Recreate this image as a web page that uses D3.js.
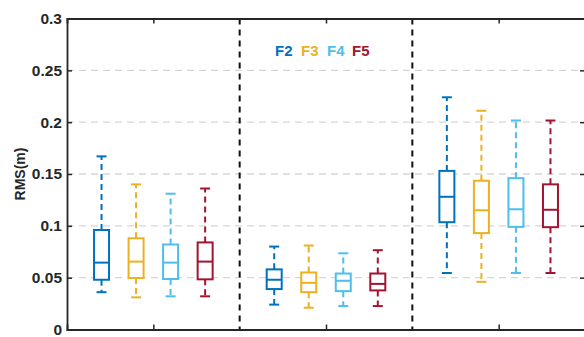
<!DOCTYPE html>
<html>
<head>
<meta charset="utf-8">
<script src="https://cdn.jsdelivr.net/npm/d3@7"></script>
<style>
  html, body { margin: 0; padding: 0; background: #fff; }
  svg { display: block; }
  text { font-family: "Liberation Sans", Arial, sans-serif; font-weight: bold; }
</style>
</head>
<body>
<svg id="chart" width="584" height="337"></svg>
<script>
// Three scenario groups, four frequency series each
const groups = [1, 2, 3];
const series = ["F2", "F3", "F4", "F5"];
const colors = ["#0072BD", "#EDB120", "#4DBEEE", "#A2142F"];

// Box statistics per series, one entry per group: [lower whisker, Q1, median, Q3, upper whisker]
const statsF2 = [
  [0.036, 0.048, 0.0645, 0.096, 0.167],
  [0.024, 0.039, 0.048, 0.058, 0.080],
  [0.0545, 0.1035, 0.128, 0.153, 0.224]
];
const statsF3 = [
  [0.031, 0.0497, 0.0655, 0.088, 0.140],
  [0.021, 0.036, 0.045, 0.055, 0.081],
  [0.046, 0.093, 0.115, 0.1435, 0.211]
];
const statsF4 = [
  [0.032, 0.0487, 0.0645, 0.082, 0.131],
  [0.0226, 0.037, 0.047, 0.054, 0.0735],
  [0.0545, 0.099, 0.116, 0.146, 0.2016]
];
const statsF5 = [
  [0.032, 0.0484, 0.0655, 0.084, 0.136],
  [0.0226, 0.0377, 0.044, 0.054, 0.0765],
  [0.0545, 0.0987, 0.1155, 0.140, 0.2016]
];
const allStats = [statsF2, statsF3, statsF4, statsF5];
const offsets = [-0.3, -0.1, 0.1, 0.3];

const yTicks = [0, 0.05, 0.1, 0.15, 0.2, 0.25, 0.3];
const yLabel = "RMS(m)";

const svg = d3.select("#chart");
const plotLeft = 67, plotRight = 585, plotTop = 18.5, plotBottom = 329.5;

const x = d3.scaleLinear().domain([0.5, 3.5]).range([plotLeft, plotRight]);
const y = d3.scaleLinear().domain([0, 0.3]).range([plotBottom, plotTop]);

const axisColor = "#262626";

// horizontal grid
svg.append("g")
  .selectAll("line")
  .data(yTicks.filter(t => t > 0 && t < 0.3))
  .join("line")
  .attr("x1", plotLeft).attr("x2", plotRight)
  .attr("y1", d => y(d)).attr("y2", d => y(d))
  .attr("stroke", "#d6d6d6")
  .attr("stroke-width", 1.3)
  .attr("stroke-dasharray", "7,5");

// group separators
svg.append("g")
  .selectAll("line")
  .data([1.5, 2.5])
  .join("line")
  .attr("x1", d => x(d)).attr("x2", d => x(d))
  .attr("y1", plotTop).attr("y2", plotBottom)
  .attr("stroke", "#111")
  .attr("stroke-width", 2)
  .attr("stroke-dasharray", "6,5");

// box plots
const boxW = 15, capW = 10;
series.forEach((name, si) => {
  const g = svg.append("g").attr("class", "series-" + name);
  allStats[si].forEach((s, gi) => {
    const cx = x(groups[gi] + offsets[si]);
    const [lo, q1, med, q3, hi] = s;
    const c = colors[si];
    // whiskers
    g.append("line")
      .attr("x1", cx).attr("x2", cx)
      .attr("y1", y(q3)).attr("y2", y(hi))
      .attr("stroke", c).attr("stroke-width", 2)
      .attr("stroke-dasharray", "6,4");
    g.append("line")
      .attr("x1", cx).attr("x2", cx)
      .attr("y1", y(q1)).attr("y2", y(lo))
      .attr("stroke", c).attr("stroke-width", 2)
      .attr("stroke-dasharray", "6,4");
    // caps
    [lo, hi].forEach(v => {
      g.append("line")
        .attr("x1", cx - capW / 2).attr("x2", cx + capW / 2)
        .attr("y1", y(v)).attr("y2", y(v))
        .attr("stroke", c).attr("stroke-width", 2);
    });
    // box
    g.append("rect")
      .attr("x", cx - boxW / 2).attr("width", boxW)
      .attr("y", y(q3)).attr("height", y(q1) - y(q3))
      .attr("fill", "#fff")
      .attr("stroke", c).attr("stroke-width", 2);
    // median
    g.append("line")
      .attr("x1", cx - boxW / 2).attr("x2", cx + boxW / 2)
      .attr("y1", y(med)).attr("y2", y(med))
      .attr("stroke", c).attr("stroke-width", 2);
  });
});

// axes (ticks drawn inward)
const tickLen = 5;
svg.append("g")
  .attr("transform", `translate(${plotLeft},0)`)
  .call(d3.axisLeft(y).tickValues(yTicks).tickSize(-tickLen).tickPadding(5)
    .tickFormat(d => d3.format("~g")(d)))
  .call(g => g.select(".domain").attr("stroke", axisColor).attr("stroke-width", 1.8))
  .call(g => g.selectAll(".tick line").attr("stroke", axisColor).attr("stroke-width", 1.5))
  .call(g => g.selectAll(".tick text").attr("fill", "#262626")
    .style("font-size", "15.5px").style("font-family", "'Liberation Sans', Arial, sans-serif")
    .style("font-weight", "bold"));

svg.append("g")
  .attr("transform", `translate(${plotRight},0)`)
  .call(d3.axisRight(y).tickValues(yTicks).tickSize(-tickLen).tickFormat(""))
  .call(g => g.select(".domain").attr("stroke", "#bbb").attr("stroke-width", 1))
  .call(g => g.selectAll(".tick line").attr("stroke", axisColor).attr("stroke-width", 1.5));

svg.append("g")
  .attr("transform", `translate(0,${plotBottom})`)
  .call(d3.axisBottom(x).tickValues(groups).tickSize(-tickLen).tickFormat(""))
  .call(g => g.select(".domain").attr("stroke", axisColor).attr("stroke-width", 1.8))
  .call(g => g.selectAll(".tick line").attr("stroke", axisColor).attr("stroke-width", 1.5));

svg.append("g")
  .attr("transform", `translate(0,${plotTop})`)
  .call(d3.axisTop(x).tickValues(groups).tickSize(-tickLen).tickFormat(""))
  .call(g => g.select(".domain").attr("stroke", axisColor).attr("stroke-width", 1.8))
  .call(g => g.selectAll(".tick line").attr("stroke", axisColor).attr("stroke-width", 1.5));

// y label
svg.append("text")
  .attr("transform", `translate(25,${y(0.15)}) rotate(-90)`)
  .attr("text-anchor", "middle")
  .attr("fill", "#262626")
  .style("font-size", "14px")
  .text(yLabel);

// legend as colored labels
const legendX = [275, 301, 327, 352];
svg.append("g")
  .selectAll("text")
  .data(series)
  .join("text")
  .attr("x", (d, i) => legendX[i])
  .attr("y", 56)
  .attr("fill", (d, i) => colors[i])
  .style("font-size", "15px")
  .text(d => d);
</script>
</body>
</html>
